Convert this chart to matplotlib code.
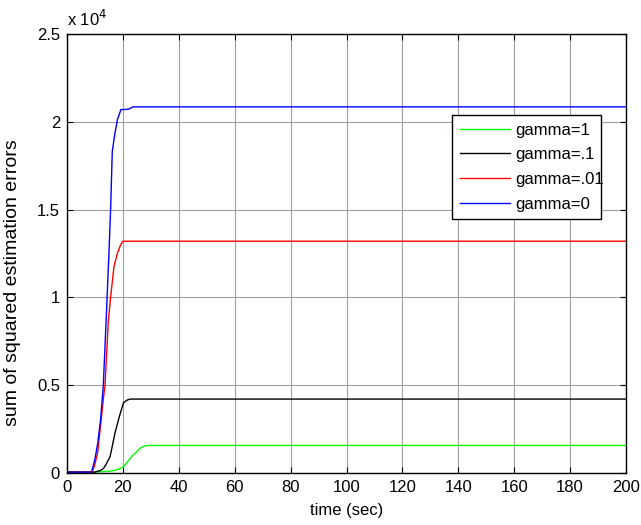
import matplotlib
matplotlib.use("Agg")
import matplotlib.pyplot as plt
from matplotlib.ticker import FuncFormatter

plt.rcParams['font.family'] = ['Liberation Sans', 'DejaVu Sans']

# Data (raw values)
t_g1 = [0, 9, 13, 15.4, 17, 18.5, 20.2, 21.5, 23.1, 24.5, 26.1, 27.5, 28.7, 200]
v_g1 = [50, 50, 80, 100, 150, 220, 360, 600, 930, 1150, 1400, 1520, 1570, 1570]

t_g01 = [0, 10, 11, 12, 13, 14, 15.4, 16.3, 17.2, 18.7, 20.2, 21.5, 22.5, 200]
v_g01 = [50, 50, 100, 150, 250, 500, 930, 1600, 2300, 3200, 4000, 4150, 4210, 4210]

t_g001 = [0, 9, 10, 11, 11.2, 12, 13, 13.6, 14.8, 15.6, 16.8, 18, 19.2, 20, 200]
v_g001 = [50, 50, 500, 1200, 1500, 2700, 4200, 5000, 8700, 10000, 11750, 12500, 13000, 13200, 13200]

t_g0 = [0, 8.8, 10, 11, 12, 13, 14, 15, 15.6, 16.2, 17.0, 18.0, 19.3, 21, 22.5, 23.5, 200]
v_g0 = [50, 50, 800, 1700, 3000, 5000, 8700, 12500, 15000, 18300, 19200, 20100, 20700, 20700, 20750, 20850, 20850]

labels = ['gamma=1', 'gamma=.1', 'gamma=.01', 'gamma=0']
colors = ['#00ff00', '#000000', '#ff0000', '#0000ff']

xticks = list(range(0, 201, 20))
yticks = [0, 5000, 10000, 15000, 20000, 25000]

fig = plt.figure(figsize=(6.41, 5.25), dpi=100)
ax = fig.add_axes([67/641, 1 - 473/525, (626-67)/641, (473-34)/525])

series = [(t_g1, v_g1), (t_g01, v_g01), (t_g001, v_g001), (t_g0, v_g0)]
for (t, v), lab, c in zip(series, labels, colors):
    ax.plot(t, v, color=c, lw=1.0, label=lab)

ax.set_xlim(0, 200)
ax.set_ylim(0, 25000)
ax.set_xticks(xticks)
ax.set_yticks(yticks)
ax.yaxis.set_major_formatter(FuncFormatter(lambda y, p: ('%g' % (y / 1e4))))
ax.grid(True, color='#a0a0a0', lw=0.8)
ax.tick_params(direction='in', top=True, right=True, length=4, width=0.8,
               labelsize=12, colors='black', pad=5)
for s in ax.spines.values():
    s.set_linewidth(1.0)
    s.set_color('black')

ax.set_xlabel('time (sec)', fontsize=12, labelpad=6)
ax.set_ylabel('sum of squared estimation errors', fontsize=14)
ax.yaxis.set_label_coords(-0.082, 0.433)
ax.text(0.0, 1.012, r'x 10$^{4}$', transform=ax.transAxes, fontsize=12,
        ha='left', va='bottom')

leg = ax.legend(loc='center', bbox_to_anchor=(0.674, 0.581, 0.296, 0.232),
                mode='expand', fancybox=False, framealpha=1, edgecolor='black',
                fontsize=12, handlelength=3.0, handletextpad=0.35,
                labelspacing=0.58, borderpad=0.45)
leg.get_frame().set_linewidth(1.0)

fig.savefig('out.png', dpi=100)
